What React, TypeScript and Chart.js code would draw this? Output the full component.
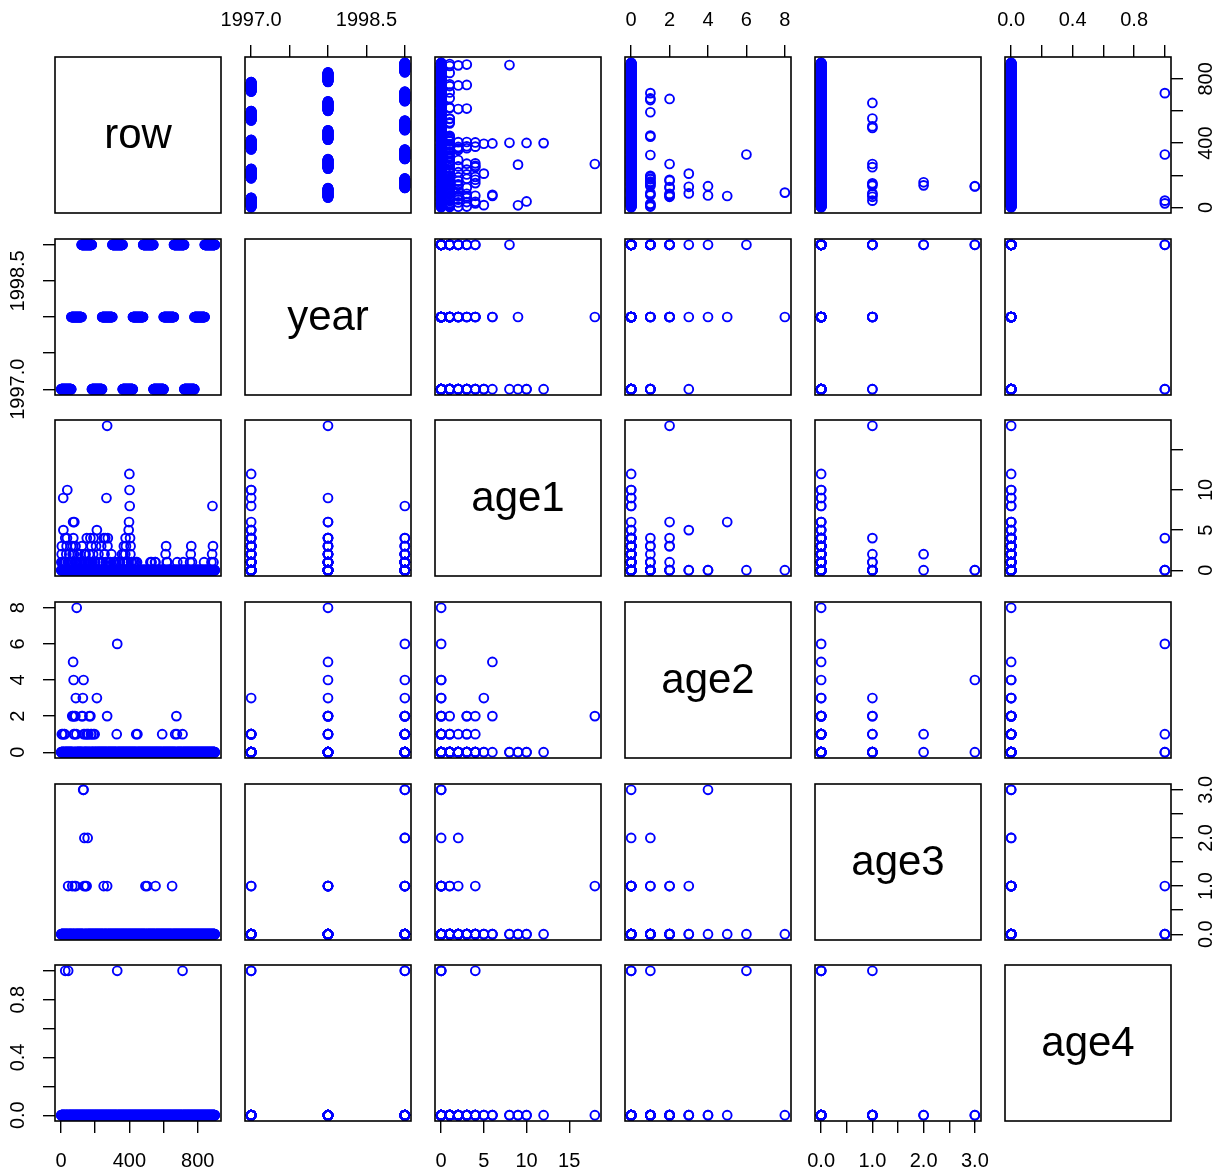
import React, { useEffect, useRef } from 'react';
import { Chart, registerables } from 'chart.js';

Chart.register(...registerables);

// ---------------- data ----------------
const variableNames = ['row', 'year', 'age1', 'age2', 'age3', 'age4'];

// rows are numbered firstRow..lastRow
const firstRow = 1;
const lastRow = 900;

// [year, first row, last row]
const yearBlocks: [number, number, number][] = [
  [1997, 1, 60], [1998, 61, 120], [1999, 121, 180],
  [1997, 181, 240], [1998, 241, 300], [1999, 301, 360],
  [1997, 361, 420], [1998, 421, 480], [1999, 481, 540],
  [1997, 541, 600], [1998, 601, 660], [1999, 661, 720],
  [1997, 721, 780], [1998, 781, 840], [1999, 841, 900],
];

// [row, value] for rows where the value is not 0
const age1Nonzero: [number, number][] = [
  [2, 1], [4, 2], [5, 3], [8, 1], [10, 1], [13, 9], [14, 5], [16, 1], [20, 1], [25, 4], [28, 1], [31, 2],
  [33, 3], [35, 4], [37, 10], [40, 1], [44, 1], [48, 2], [52, 1], [56, 1], [59, 3],
  [62, 1], [65, 1], [68, 2], [70, 3], [71, 6], [72, 4], [76, 2], [78, 6], [82, 1], [85, 3], [88, 1],
  [95, 1], [100, 2], [105, 1], [110, 1], [112, 2], [115, 1], [118, 1],
  [122, 3], [125, 1], [135, 1], [137, 2], [140, 2], [144, 2], [145, 1], [151, 4], [155, 1], [160, 1],
  [165, 2], [166, 1], [170, 1], [172, 4], [175, 1], [178, 3],
  [184, 1], [188, 2], [190, 4], [195, 1], [200, 1], [205, 3], [210, 5], [215, 1], [219, 2], [225, 1],
  [230, 1], [235, 3],
  [245, 1], [250, 4], [255, 2], [259, 4], [263, 1], [266, 9], [270, 18], [272, 3], [274, 4], [278, 1],
  [285, 1], [290, 1], [295, 2],
  [305, 1], [312, 1], [320, 1], [335, 1], [345, 1], [357, 2],
  [362, 1], [366, 2], [368, 3], [372, 1], [376, 2], [378, 4], [380, 3], [384, 1], [390, 1], [394, 1],
  [396, 5], [398, 6], [400, 12], [401, 10], [402, 8], [404, 4], [406, 2], [407, 3], [410, 1], [415, 1],
  [425, 1], [432, 1], [440, 1], [445, 1],
  [523, 1], [530, 1], [550, 1], [553, 1],
  [612, 2], [615, 3], [618, 1], [622, 1],
  [680, 1], [715, 1],
  [755, 1], [759, 2], [762, 3], [766, 1],
  [837, 1],
  [880, 1], [884, 2], [886, 8], [889, 3], [892, 1],
];

const age2Nonzero: [number, number][] = [
  [5, 1], [9, 1], [18, 1], [22, 1],
  [66, 2], [70, 2], [71, 5], [74, 4], [75, 1], [78, 2], [80, 1], [84, 2], [87, 3], [90, 1], [92, 8],
  [122, 2], [126, 2], [128, 3], [132, 4], [133, 1], [140, 1], [150, 1], [156, 1], [160, 1], [166, 2],
  [172, 2], [175, 1], [178, 1],
  [190, 1], [197, 1], [210, 3], [270, 2], [326, 1], [329, 6], [440, 1], [447, 1], [592, 1],
  [668, 1], [675, 2], [678, 1], [711, 1],
];

const age3Nonzero: [number, number][] = [
  [42, 1], [66, 1], [80, 1], [87, 1], [130, 3], [132, 3], [135, 1], [137, 2], [144, 1], [150, 1],
  [156, 2], [250, 1], [270, 1], [494, 1], [504, 1], [553, 1], [650, 1],
];

const age4Nonzero: [number, number][] = [
  [25, 1], [42, 1], [329, 1], [711, 1],
];

// tick values and labels of each variable's axis
const tickValues: number[][] = [
  [0, 200, 400, 600, 800],
  [1997, 1997.5, 1998, 1998.5, 1999],
  [0, 5, 10, 15],
  [0, 2, 4, 6, 8],
  [0, 0.5, 1, 1.5, 2, 2.5, 3],
  [0, 0.2, 0.4, 0.6, 0.8, 1],
];
// labels on top / bottom axes
const horizontalTickLabels: string[][] = [
  ['0', '', '400', '', '800'],
  ['1997.0', '', '', '1998.5', ''],
  ['0', '5', '10', '15'],
  ['0', '2', '4', '6', '8'],
  ['0.0', '', '1.0', '', '2.0', '', '3.0'],
  ['0.0', '', '0.4', '', '0.8', ''],
];
// labels on left / right axes
const verticalTickLabels: string[][] = [
  ['0', '', '400', '', '800'],
  ['1997.0', '', '', '1998.5', ''],
  ['0', '5', '10', ''],
  ['0', '2', '4', '6', '8'],
  ['0.0', '', '1.0', '', '2.0', '', '3.0'],
  ['0.0', '', '0.4', '', '0.8', ''],
];

// ---------------- layout / style ----------------
const FONT_FAMILY = '"Liberation Sans", Arial, Helvetica, sans-serif';
const AXIS_FONT_SIZE = 20;
const NAME_FONT_SIZE = 42;
const COL_LEFT = [55, 245, 435, 625, 815, 1005];
const ROW_TOP = [57, 239, 420, 602, 784, 965];
const BOX_W = 166;
const BOX_H = 156;
const AX = 46; // space for an axis
const MARGIN = 34; // free margin on sides without an axis (room for overflowing labels)
const TICK_LEN = 12;
const LABEL_DIST = { top: 37, bottom: 40, left: 37, right: 35 };
const POINT_COLOR = '#0000FF';

function buildColumns(): number[][] {
  const rows: number[] = [];
  for (let r = firstRow; r <= lastRow; r++) rows.push(r);
  const years = rows.map((r) => {
    const b = yearBlocks.find((blk) => r >= blk[1] && r <= blk[2]);
    return b ? b[0] : yearBlocks[0][0];
  });
  const fromSparse = (list: [number, number][]) => {
    const m = new Map<number, number>(list);
    return rows.map((r) => m.get(r) ?? 0);
  };
  return [rows, years, fromSparse(age1Nonzero), fromSparse(age2Nonzero), fromSparse(age3Nonzero), fromSparse(age4Nonzero)];
}

const columns = buildColumns();
const ranges: [number, number][] = columns.map((col) => {
  const mn = Math.min(...col);
  const mx = Math.max(...col);
  const pad = (mx - mn) * 0.04;
  return [mn - pad, mx + pad];
});

let measureCtx: CanvasRenderingContext2D | null = null;
function measure(text: string): number {
  if (!measureCtx) measureCtx = document.createElement('canvas').getContext('2d');
  if (!measureCtx) return 0;
  measureCtx.font = `${AXIS_FONT_SIZE}px ${FONT_FAMILY}`;
  return measureCtx.measureText(text).width;
}

type Side = 'top' | 'bottom' | 'left' | 'right' | null;

function makeScale(v: number, axis: 'x' | 'y', side: Side): any {
  const [min, max] = ranges[v];
  if (!side) return { type: 'linear', axis, min, max, display: false };
  const horizontal = side === 'top' || side === 'bottom';
  const vals = tickValues[v];
  const labels = horizontal ? horizontalTickLabels[v] : verticalTickLabels[v];
  let padding: number;
  if (horizontal) {
    padding = LABEL_DIST[side] - TICK_LEN - (AXIS_FONT_SIZE * 1.2) / 2;
  } else {
    const widest = Math.max(...labels.map(measure));
    padding = LABEL_DIST[side] - TICK_LEN - widest / 2;
  }
  return {
    type: 'linear',
    axis,
    min,
    max,
    position: side,
    display: true,
    afterBuildTicks: (s: any) => {
      s.ticks = vals.map((value) => ({ value }));
    },
    afterFit: (s: any) => {
      if (horizontal) s.height = AX;
      else s.width = AX;
      s.paddingLeft = 0;
      s.paddingRight = 0;
      s.paddingTop = 0;
      s.paddingBottom = 0;
    },
    grid: {
      display: true,
      drawOnChartArea: false,
      drawTicks: true,
      tickLength: TICK_LEN,
      color: '#000',
      lineWidth: 1.4,
      offset: false,
    },
    border: { display: false },
    ticks: {
      autoSkip: false,
      color: '#000',
      font: { family: FONT_FAMILY, size: AXIS_FONT_SIZE },
      padding,
      minRotation: horizontal ? 0 : 90,
      maxRotation: horizontal ? 0 : 90,
      crossAlign: horizontal ? 'near' : 'center',
      callback: (_value: any, index: number) => labels[index],
    },
  };
}

const panelPlugin = {
  id: 'panelBox',
  afterDraw(chart: any, _args: any, opts: any) {
    const { ctx, chartArea: a } = chart;
    ctx.save();
    ctx.strokeStyle = '#000';
    ctx.lineWidth = 1.6;
    ctx.strokeRect(a.left, a.top, a.right - a.left, a.bottom - a.top);
    if (opts && opts.label) {
      ctx.fillStyle = '#000';
      ctx.font = `${NAME_FONT_SIZE}px ${FONT_FAMILY}`;
      ctx.textAlign = 'center';
      ctx.textBaseline = 'alphabetic';
      ctx.fillText(opts.label, (a.left + a.right) / 2, (a.top + a.bottom) / 2 + NAME_FONT_SIZE * 0.32);
    }
    ctx.restore();
  },
};

function Panel({ r, c }: { r: number; c: number }) {
  const ref = useRef<HTMLCanvasElement>(null);
  const hasTop = r === 0 && c % 2 === 1;
  const hasBottom = r === 5 && c % 2 === 0;
  const hasLeft = c === 0 && r % 2 === 1;
  const hasRight = c === 5 && r % 2 === 0;
  const extL = hasLeft ? AX : MARGIN;
  const extR = hasRight ? AX : MARGIN;
  const extT = hasTop ? AX : MARGIN;
  const extB = hasBottom ? AX : MARGIN;
  const width = BOX_W + extL + extR;
  const height = BOX_H + extT + extB;
  const diag = r === c;

  useEffect(() => {
    if (!ref.current) return;
    const xs = columns[c];
    const ys = columns[r];
    const points = diag ? [] : xs.map((x, i) => ({ x, y: ys[i] }));
    const chart = new Chart(ref.current, {
      type: 'scatter',
      data: {
        datasets: diag
          ? []
          : [
              {
                data: points,
                pointRadius: 4.4,
                pointHoverRadius: 4.4,
                pointBorderWidth: 1.9,
                pointBorderColor: POINT_COLOR,
                pointBackgroundColor: 'rgba(0,0,0,0)',
                borderColor: POINT_COLOR,
                backgroundColor: 'rgba(0,0,0,0)',
                showLine: false,
                clip: false,
              } as any,
            ],
      },
      options: {
        responsive: false,
        animation: false,
        events: [],
        layout: {
          autoPadding: false,
          padding: {
            left: hasLeft ? 0 : MARGIN,
            right: hasRight ? 0 : MARGIN,
            top: hasTop ? 0 : MARGIN,
            bottom: hasBottom ? 0 : MARGIN,
          },
        },
        plugins: {
          legend: { display: false },
          tooltip: { enabled: false },
          panelBox: { label: diag ? variableNames[r] : '' },
        } as any,
        scales: {
          x: makeScale(c, 'x', hasTop ? 'top' : hasBottom ? 'bottom' : null),
          y: makeScale(r, 'y', hasLeft ? 'left' : hasRight ? 'right' : null),
        },
      } as any,
      plugins: [panelPlugin],
    });
    return () => chart.destroy();
  }, [r, c]);

  return (
    <canvas
      ref={ref}
      width={width}
      height={height}
      style={{
        position: 'absolute',
        left: COL_LEFT[c] - extL,
        top: ROW_TOP[r] - extT,
        width,
        height,
      }}
    />
  );
}

export default function App() {
  const cells: React.ReactNode[] = [];
  for (let r = 0; r < 6; r++) {
    for (let c = 0; c < 6; c++) {
      cells.push(<Panel key={`${r}-${c}`} r={r} c={c} />);
    }
  }
  return (
    <div
      style={{
        position: 'absolute',
        left: 0,
        top: 0,
        width: 1219,
        height: 1172,
        overflow: 'hidden',
        background: '#fff',
      }}
    >
      {cells}
    </div>
  );
}
